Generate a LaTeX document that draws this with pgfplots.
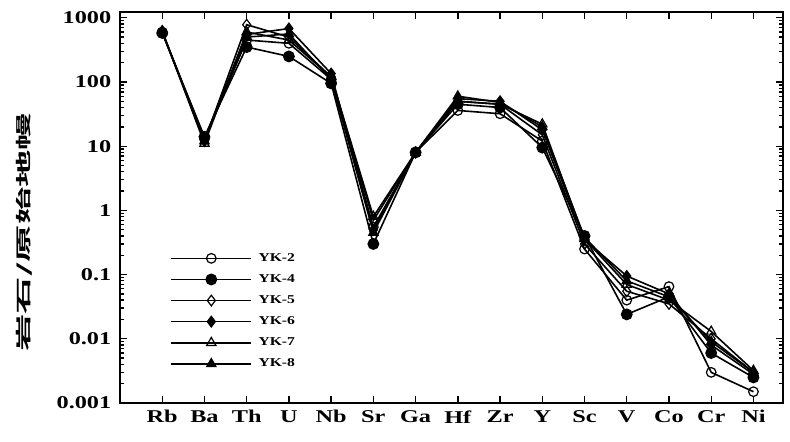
\documentclass[border=0pt]{standalone}
\usepackage{pgfplots}
\pgfplotsset{compat=1.18}
\usepackage{fontspec}
\setmainfont{Liberation Serif}
\newfontfamily\cjk{Noto Sans CJK SC Bold}
\newcommand\sx[1]{\scalebox{1.35}[1]{#1}}
\begin{document}
\begin{tikzpicture}
\begin{axis}[
  scale only axis,
  width=497.25pt, height=293.25pt,
  ymode=log, ymin=0.001, ymax=1230,
  xmin=-1, xmax=14.7,
  xtick={0,...,14},
  xticklabels={\sx{Rb},\sx{Ba},\sx{Th},\sx{U},\sx{Nb},\sx{Sr},\sx{Ga},\sx{Hf},\sx{Zr},\sx{Y},\sx{Sc},\sx{V},\sx{Co},\sx{Cr},\sx{Ni}},
  ytick={0.001,0.01,0.1,1,10,100,1000},
  yticklabels={\sx{0.001},\sx{0.01},\sx{0.1},\sx{1},\sx{10},\sx{100},\sx{1000}},
  ticklabel style={font=\bfseries\fontsize{13.5}{15}\selectfont},
  xticklabel style={yshift=-2pt},
  yticklabel style={xshift=-3pt},
  /pgf/number format/assume math mode=true,
  tick align=inside,
  major tick length=5pt,
  minor tick length=3pt,
  axis line style={line width=1.4pt},
  every tick/.style={black, line width=1pt},
  xtick pos=both,
  ylabel={\scalebox{2.4}[1]{\cjk\fontsize{11.7}{12}\selectfont 岩石/原始地幔}},
  ylabel style={at={(rel axis cs:-0.145,0.437)}, anchor=center},
  legend style={draw=none, fill=none, at={(rel axis cs:0.072,0.397)}, anchor=north west,
    font=\bfseries\fontsize{9}{9}\selectfont, row sep=4.4pt, inner xsep=2pt},
  legend cell align=left,
  legend image code/.code={\draw[#1, mark repeat=2, mark phase=2] plot coordinates {(0cm,0cm) (1.05cm,0cm) (2.1cm,0cm)};},
  every axis plot/.append style={black, line width=1.2pt, mark options={solid, line width=0.9pt}},
]
\addplot[mark=o, mark size=3.6pt] coordinates {(0,600) (1,13) (2,450) (3,400) (4,110) (5,0.55) (6,8) (7,36) (8,32) (9,12) (10,0.25) (11,0.04) (12,0.065) (13,0.003) (14,0.0015)};
\addlegendentry{\scalebox{1.3}[1]{\ YK-2}}
\addplot[mark=*, mark size=4pt] coordinates {(0,580) (1,14) (2,350) (3,250) (4,95) (5,0.3) (6,8) (7,45) (8,40) (9,9.5) (10,0.4) (11,0.024) (12,0.045) (13,0.006) (14,0.0025)};
\addlegendentry{\scalebox{1.3}[1]{\ YK-4}}
\addplot[mark=diamond, mark size=4pt] coordinates {(0,620) (1,12) (2,780) (3,500) (4,120) (5,0.7) (6,8) (7,50) (8,45) (9,15) (10,0.3) (11,0.055) (12,0.035) (13,0.01) (14,0.003)};
\addlegendentry{\scalebox{1.3}[1]{\ YK-5}}
\addplot[mark=diamond*, mark size=4pt] coordinates {(0,600) (1,13) (2,550) (3,680) (4,135) (5,0.5) (6,8) (7,55) (8,50) (9,18) (10,0.35) (11,0.095) (12,0.05) (13,0.008) (14,0.0028)};
\addlegendentry{\scalebox{1.3}[1]{\ YK-6}}
\addplot[mark=triangle, mark size=4pt] coordinates {(0,620) (1,11) (2,600) (3,450) (4,120) (5,0.8) (6,8) (7,50) (8,45) (9,22) (10,0.36) (11,0.07) (12,0.04) (13,0.013) (14,0.0032)};
\addlegendentry{\scalebox{1.3}[1]{\ YK-7}}
\addplot[mark=triangle*, mark size=4pt] coordinates {(0,600) (1,12) (2,500) (3,560) (4,110) (5,0.45) (6,8) (7,60) (8,48) (9,20) (10,0.38) (11,0.08) (12,0.045) (13,0.009) (14,0.003)};
\addlegendentry{\scalebox{1.3}[1]{\ YK-8}}
\end{axis}
\pgfresetboundingbox
\path[use as bounding box] ([xshift=-90pt,yshift=-29.25pt]current axis.south west) rectangle ([xshift=5.25pt,yshift=9pt]current axis.north east);
\end{tikzpicture}
\end{document}
